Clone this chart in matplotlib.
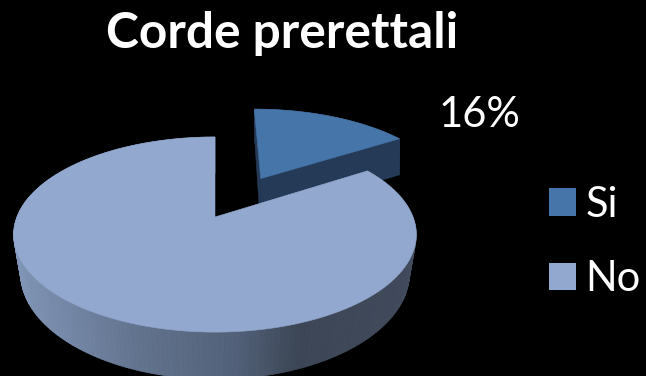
import numpy as np
import matplotlib
matplotlib.use("Agg")
import matplotlib.pyplot as plt
from matplotlib.patches import Patch
from matplotlib.colors import LinearSegmentedColormap

# DATA
title = "Corde prerettali"
labels = ["Si", "No"]
values = [16, 84]
explode = [0.5, 0.0]

# STYLE
top_colors = ["#4675a9", "#93a8cf"]
side_small = "#243a57"
side_cmap = LinearSegmentedColormap.from_list(
    "side", [(0, "#8094b5"), (0.3, "#62738e"), (0.55, "#53627a"), (0.72, "#3c4656"), (1, "#414b5d")]
)

plt.rcParams["font.family"] = ["Lato", "DejaVu Sans"]

# PROJECTION of the tilted pie onto the canvas
cx, cy = 215.0, 217.0
ax_x, ax_y = 198.0, 94.4
k = -0.18
nudge_x = [1.5, 0.0]


def project(X, Y, depth=False):
    D = 1 - k * Y
    sx = 1.0
    shift = 0.0
    if depth:
        sx = 1 - 0.03 * (1 - Y)
        shift = 41.5 - 5.5 * Y
    return cx + sx * ax_x * X / D, cy - ax_y * Y / D + shift


fig = plt.figure(figsize=(6.46, 3.76), dpi=100, facecolor="black")
ax = fig.add_axes([0, 0, 1, 1])
ax.set_xlim(0, 646)
ax.set_ylim(376, 0)
ax.axis("off")

# slice angles measured clockwise from twelve o'clock
edges = np.concatenate([[0], np.cumsum(values)]) / sum(values) * 2 * np.pi


def slice_outline(i):
    a = np.linspace(edges[i], edges[i + 1], 240)
    mid = (edges[i] + edges[i + 1]) / 2
    ox, oy = explode[i] * np.sin(mid), explode[i] * np.cos(mid)
    return ox, oy, ox + np.sin(a), oy + np.cos(a)


def draw_side(i, color_fn):
    ox, oy, X, Y = slice_outline(i)
    x0, y0 = project(X, Y)
    x1, y1 = project(X, Y, depth=True)
    x0, x1 = x0 + nudge_x[i], x1 + nudge_x[i]
    for j in range(len(X) - 1):
        c = color_fn((x0[j] + x0[j + 1]) / 2)
        ax.fill([x0[j], x0[j + 1], x1[j + 1], x1[j]],
                [y0[j], y0[j + 1], y1[j + 1], y1[j]],
                color=c, lw=0.6, zorder=1 + i * 2)


def draw_cut_faces(i, color):
    ox, oy, X, Y = slice_outline(i)
    for e in [0, -1]:
        xs = np.array([ox, X[e]])
        ys = np.array([oy, Y[e]])
        x0, y0 = project(xs, ys)
        x1, y1 = project(xs, ys, depth=True)
        x0, x1 = x0 + nudge_x[i], x1 + nudge_x[i]
        ax.fill([x0[0], x0[1], x1[1], x1[0]], [y0[0], y0[1], y1[1], y1[0]],
                color=color, lw=0.4, zorder=1 + i * 2)


def draw_top(i):
    ox, oy, X, Y = slice_outline(i)
    xs = np.concatenate([[ox], X])
    ys = np.concatenate([[oy], Y])
    px, py = project(xs, ys)
    ax.fill(px + nudge_x[i], py, color=top_colors[i], lw=0.4, zorder=2 + i * 2)


# the exploded small slice sits behind the big one
draw_cut_faces(0, side_small)
draw_side(0, lambda x: side_small)
draw_top(0)

draw_side(1, lambda x: side_cmap(np.clip((x - 20) / 390, 0, 1)))
draw_top(1)

# LABELS
ax.text(282.5, 33, title, color="white", fontsize=35.7, fontweight="bold", ha="center", va="center")
ax.text(479, 115, f"{values[0]}%", color="white", fontsize=30, ha="center", va="center")
ax.text(147, 275, f"{values[1]}%", color="white", fontsize=30, ha="center", va="center")

# LEGEND
handles = [Patch(color=c, lw=0) for c in top_colors]
ax.legend(
    handles, labels,
    loc="center left",
    bbox_to_anchor=(549 / 646, 1 - 242 / 376),
    frameon=False,
    fontsize=30,
    labelcolor="white",
    handlelength=0.65,
    handleheight=0.65,
    handletextpad=0.22,
    labelspacing=0.87,
    borderpad=0,
    borderaxespad=0,
)

plt.savefig("out.png", dpi=100, facecolor="black")
